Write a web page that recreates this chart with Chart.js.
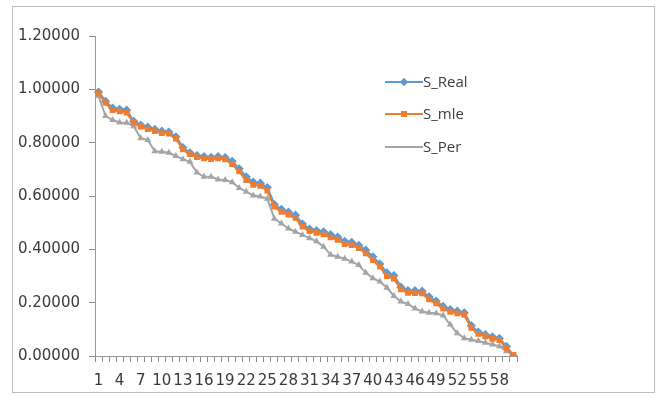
<!DOCTYPE html>
<html>
<head>
<meta charset="utf-8">
<script src="https://cdn.jsdelivr.net/npm/chart.js@4/dist/chart.umd.min.js"></script>
<style>
    body { margin: 0; background: #fff; }
    #wrap { position: relative; width: 659px; height: 398px; }
    #frame { position: absolute; left: 12px; top: 6px; width: 641px; height: 385px; border: 1px solid #bcbcbc; }
    #chart { position: absolute; left: 0; top: 0; }
    .lg { position: absolute; left: 385px; height: 20px; font-family: "Open Sans", sans-serif; font-size: 15px; color: #404040; }
    .lg .ln { position: absolute; left: 0; top: 9px; width: 38px; height: 2px; }
    .lg .mk { position: absolute; left: 16px; top: 7px; width: 6px; height: 6px; }
    .lg .tx { position: absolute; left: 38px; top: -1px; white-space: nowrap; }
</style>
</head>
<body>
<div id="wrap">
    <div id="frame"></div>
    <canvas id="chart" width="659" height="398"></canvas>
    <div class="lg" style="top:72px"><div class="ln" style="background:#5B9BD5"></div><div class="mk" style="background:#5B9BD5;transform:rotate(45deg)"></div><div class="tx">S_Real</div></div>
    <div class="lg" style="top:104px"><div class="ln" style="background:#ED7D31"></div><div class="mk" style="background:#ED7D31"></div><div class="tx">S_mle</div></div>
    <div class="lg" style="top:137px"><div class="ln" style="background:#A5A5A5"></div><div class="tx">S_Per</div></div>
</div>
<script>
// x categories 1..60
var labels = [];
for (var i = 1; i <= 60; i++) { labels.push(String(i)); }

var yTicks = [0, 0.2, 0.4, 0.6, 0.8, 1.0, 1.2];

var sReal = [0.990, 0.955, 0.930, 0.925, 0.922, 0.880, 0.866, 0.858, 0.850, 0.843,
             0.840, 0.822, 0.782, 0.762, 0.752, 0.748, 0.745, 0.748, 0.744, 0.730,
             0.702, 0.672, 0.652, 0.648, 0.632, 0.568, 0.550, 0.540, 0.528, 0.495,
             0.476, 0.470, 0.466, 0.455, 0.446, 0.430, 0.426, 0.415, 0.397, 0.372,
             0.345, 0.312, 0.302, 0.258, 0.245, 0.245, 0.243, 0.222, 0.206, 0.186,
             0.174, 0.168, 0.162, 0.114, 0.090, 0.080, 0.072, 0.066, 0.036, 0.000];

var sMle = [0.985, 0.950, 0.922, 0.917, 0.913, 0.875, 0.860, 0.851, 0.843, 0.836,
            0.834, 0.815, 0.775, 0.757, 0.746, 0.741, 0.738, 0.741, 0.737, 0.720,
            0.692, 0.660, 0.642, 0.638, 0.620, 0.560, 0.541, 0.530, 0.518, 0.485,
            0.468, 0.462, 0.456, 0.445, 0.436, 0.420, 0.416, 0.405, 0.385, 0.360,
            0.335, 0.300, 0.290, 0.250, 0.237, 0.236, 0.235, 0.212, 0.197, 0.178,
            0.166, 0.160, 0.154, 0.106, 0.083, 0.074, 0.064, 0.060, 0.030, 0.004];

var sPer = [0.975, 0.900, 0.885, 0.876, 0.875, 0.862, 0.817, 0.810, 0.768, 0.766,
            0.762, 0.750, 0.738, 0.728, 0.688, 0.672, 0.672, 0.662, 0.660, 0.652,
            0.630, 0.616, 0.602, 0.598, 0.590, 0.515, 0.497, 0.478, 0.466, 0.454,
            0.442, 0.430, 0.410, 0.380, 0.372, 0.365, 0.354, 0.341, 0.312, 0.292,
            0.279, 0.256, 0.225, 0.204, 0.195, 0.178, 0.167, 0.162, 0.160, 0.152,
            0.118, 0.085, 0.067, 0.061, 0.056, 0.050, 0.043, 0.037, 0.018, 0.002];

var axisColor = '#9a9a9a';
var textColor = '#3a3a3a';
var tickFont = { family: '"DejaVu Sans", sans-serif', size: 15 };

var chartData = {
    labels: labels,
    datasets: [{
        label: 'S_Real',
        data: sReal,
        borderColor: '#5B9BD5',
        backgroundColor: '#5B9BD5',
        borderWidth: 2.25,
        pointStyle: 'rectRot',
        pointRadius: 3,
        order: 1
    }, {
        label: 'S_mle',
        data: sMle,
        borderColor: '#ED7D31',
        backgroundColor: '#ED7D31',
        borderWidth: 2.25,
        pointStyle: 'rect',
        pointRadius: 2.5,
        order: 0
    }, {
        label: 'S_Per',
        data: sPer,
        borderColor: '#A5A5A5',
        backgroundColor: '#A5A5A5',
        borderWidth: 2,
        pointStyle: 'triangle',
        pointRadius: 2,
        order: 2
    }]
};

var ctx = document.getElementById('chart');

var lineChart = new Chart(ctx, {
    type: 'line',
    data: chartData,
    options: {
        responsive: false,
        animation: false,
        events: [],
        elements: { line: { tension: 0 } },
        layout: { padding: { top: 36, right: 142, bottom: 0, left: 0 } },
        plugins: { legend: { display: false }, tooltip: { enabled: false } },
        scales: {
            x: {
                offset: true,
                afterFit: function (scale) { scale.height = 42; },
                border: { color: axisColor, width: 1 },
                grid: { offset: true, drawOnChartArea: false, drawTicks: true, tickLength: 6, tickColor: '#8c8c8c', color: axisColor, lineWidth: 1 },
                ticks: {
                    autoSkip: false,
                    maxRotation: 0,
                    minRotation: 0,
                    padding: 10,
                    color: textColor,
                    font: tickFont,
                    callback: function (val, idx) { return idx % 3 === 0 ? labels[idx] : ' '; }
                }
            },
            y: {
                min: 0,
                max: 1.2,
                afterFit: function (scale) { scale.width = 95; },
                afterBuildTicks: function (scale) {
                    scale.ticks = yTicks.map(function (v) { return { value: v }; });
                },
                border: { color: axisColor, width: 1 },
                grid: { drawOnChartArea: false, tickLength: 6, tickColor: '#8c8c8c', color: axisColor },
                ticks: {
                    padding: 9,
                    color: textColor,
                    font: tickFont,
                    callback: function (val) { return Number(val).toFixed(5); }
                }
            }
        }
    }
});
</script>
</body>
</html>
